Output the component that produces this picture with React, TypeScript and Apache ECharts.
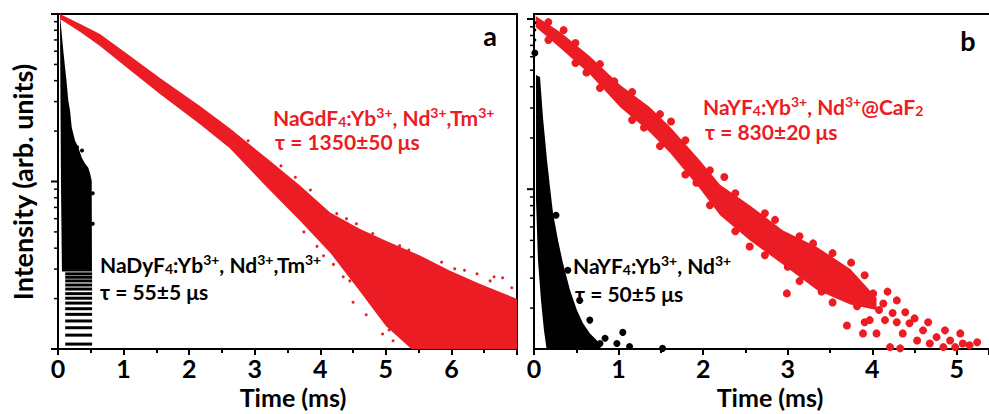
import React, { useEffect, useRef } from "react";
import * as echarts from "echarts";

// ---------------- data (time in ms, intensity in arb. units) ----------------
// Panel a – NaGdF4:Yb,Nd,Tm (red, dense band: upper / lower envelope)
const redA_t = [0.03, 0.34, 0.64, 1.1, 1.56, 2.17, 2.62, 3.19, 3.69, 4.15, 4.6, 5.0, 5.52, 5.98, 6.43, 7.0];
const redA_high = [100, 87.1, 75.9, 56.1, 41.4, 28.1, 20.8, 13.7, 9.46, 6.52, 5.23, 4.43, 3.61, 2.93, 2.45, 1.99];
const redA_low = [93.3, 78.0, 64.3, 46.2, 33.2, 21.9, 15.8, 9.2, 5.84, 3.76, 2.22, 1.37, 0.9, 0.9, 0.9, 0.9];
const redA_dots: number[][] = [
  [4.25, 6.43], [4.8, 4.89], [5.21, 4.14], [5.67, 3.23], [6.05, 3.01], [6.39, 2.81], [6.59, 2.55],
  [6.78, 2.66], [6.92, 2.32], [4.91, 1.62], [4.95, 1.23], [5.11, 1.12], [4.5, 1.9], [4.7, 1.6],
  [5.05, 1.3], [4.45, 2.55], [3.4, 12.4], [3.62, 10.6], [3.85, 8.9], [3.95, 4.1], [4.05, 3.6],
  [4.2, 3.2], [3.75, 5.0], [2.9, 17.5], [3.05, 11.2], [4.4, 6.0], [4.55, 5.6], [5.35, 3.9],
  [5.85, 3.3], [6.2, 2.95], [6.65, 2.7], [4.35, 2.7],
];
// Panel a – NaDyF4:Yb,Nd,Tm (black, solid outline + quantised low-count levels)
const blackA_t = [0.03, 0.056, 0.08, 0.107, 0.133, 0.157, 0.183, 0.209, 0.259, 0.309, 0.361, 0.412, 0.462, 0.488, 0.514, 0.518, 0.06, 0.045];
const blackA_v = [98.6, 76.9, 60.9, 48.2, 38.6, 30.5, 26.6, 21.1, 17.6, 16.0, 13.9, 12.8, 12.1, 11.2, 10.1, 2.9, 2.9, 10];
const blackA_levels = [1.07, 1.21, 1.34, 1.47, 1.61, 1.74, 1.88, 2.01, 2.14, 2.28, 2.41, 2.55, 2.68, 2.81];
const blackA_levelStart = 0.11;
const blackA_levelEnd = 0.52;
const blackA_dots: number[][] = [[0.29, 16.0], [0.366, 15.3], [0.53, 8.5], [0.53, 5.6]];

// Panel b – NaYF4:Yb,Nd@CaF2 (red)
const redB_t = [0.02, 0.31, 0.66, 1.02, 1.37, 1.61, 1.96, 2.2, 2.55, 2.94, 3.35, 3.74, 4.05];
const redB_high = [104, 83.9, 60.5, 40.9, 30.3, 23.2, 14.8, 10.6, 8.05, 5.74, 4.56, 3.4, 2.3];
const redB_low = [89.7, 67.5, 47.4, 30.3, 21.6, 16.3, 10.1, 7.03, 5.01, 3.62, 2.55, 2.1, 1.95];
const redB_dots: number[][] = [
  [0.17, 95.9], [0.17, 75.2], [0.49, 72.3], [0.49, 55.1], [0.78, 54.3], [0.78, 39.3], [1.16, 37.2],
  [1.16, 25.5], [1.49, 27.6], [1.49, 17.9], [1.79, 19.4], [1.79, 12.2], [2.08, 12.9], [2.08, 8.05],
  [2.38, 9.47], [2.38, 5.66], [2.73, 7.22], [2.73, 4.09], [3.14, 5.29], [3.14, 2.88], [3.53, 4.21],
  [3.53, 2.16], [3.91, 3.12], [3.91, 1.65], [2.99, 2.44], [3.7, 1.58], [2.67, 5.97],
  [4.01, 2.44], [4.05, 1.42], [4.13, 2.13], [4.15, 1.7], [4.21, 1.18], [4.24, 1.87], [4.29, 2.22],
  [4.29, 1.65], [4.33, 1.16], [4.36, 1.42], [4.39, 1.89], [4.44, 1.63], [4.5, 1.74], [4.53, 1.29],
  [4.6, 1.48], [4.66, 1.65], [4.68, 1.24], [4.76, 1.35], [4.84, 1.18], [4.86, 1.48], [4.92, 1.29],
  [4.98, 1.18], [5.04, 1.42], [5.07, 1.24], [5.15, 1.21], [5.24, 1.26], [3.97, 1.7], [3.89, 1.42],
  [0.35, 86.0], [0.62, 48.5], [0.95, 43.0], [1.3, 23.0], [1.62, 25.0], [1.92, 10.9], [2.25, 11.8],
  [2.5, 6.3], [2.85, 6.6], [3.0, 3.5], [3.3, 4.8], [3.4, 2.5], [3.75, 3.7], [3.82, 2.05],
  [4.08, 1.95], [4.18, 2.5], [3.6, 3.0], [3.25, 3.3], [2.55, 4.6],
];
// Panel b – NaYF4:Yb,Nd (black)
const blackB_t = [0.024, 0.071, 0.106, 0.154, 0.189, 0.225, 0.284, 0.343, 0.426, 0.508, 0.579, 0.662, 0.745, 0.816, 0.154, 0.118, 0.083, 0.047, 0.024];
const blackB_v = [46.9, 45.6, 26.5, 14.8, 10.3, 7.23, 5.01, 3.67, 2.55, 1.94, 1.63, 1.42, 1.29, 1.1, 1.1, 1.48, 2.22, 3.82, 8.61];
const blackB_dots: number[][] = [
  [0.01, 63.1], [0.26, 7.03], [0.4, 3.34], [0.54, 2.22], [0.66, 1.7], [0.84, 1.33], [0.64, 1.33],
  [0.78, 1.24], [0.98, 1.24], [1.05, 1.44], [1.13, 1.19], [1.52, 1.16],
];
const blackB_smallDots: number[][] = [[0.01, 95], [0.01, 86.1], [0.01, 75.2]];

// axes
const xMaxA = 7;
const xMaxB = 5.38;
const yMinA = 1;
const yMaxA = 100;
const yMinB = 1.15;
const yMaxB = 107;
const yMajorA = [1, 10, 100];
const yMajorB = [10, 100];
const yMinor = [2, 3, 4, 5, 6, 7, 8, 9, 20, 30, 40, 50, 60, 70, 80, 90];

// ---------------------------------------------------------------------------
const FONT = 'Lato, "Open Sans", "DejaVu Sans", sans-serif';
const RED = "#ec1c24";

function polygonSeries(xi: number, yi: number, ts: number[], vs: number[], color: string) {
  return {
    type: "custom",
    xAxisIndex: xi,
    yAxisIndex: yi,
    clip: true,
    silent: true,
    data: [[ts[0], vs[0]]],
    renderItem: (_p: any, api: any) => {
      const pts = ts.map((t, i) => api.coord([t, vs[i]]));
      return { type: "polygon", shape: { points: pts }, style: { fill: color } };
    },
  };
}

function bandSeries(xi: number, yi: number, ts: number[], hi: number[], lo: number[], color: string) {
  return {
    type: "custom",
    xAxisIndex: xi,
    yAxisIndex: yi,
    clip: true,
    silent: true,
    data: [[ts[0], hi[0]]],
    renderItem: (_p: any, api: any) => {
      const top = ts.map((t, i) => api.coord([t, hi[i]]));
      const bot = ts.map((t, i) => api.coord([t, lo[i]])).reverse();
      return { type: "polygon", shape: { points: top.concat(bot) }, style: { fill: color } };
    },
  };
}

function dotSeries(xi: number, yi: number, data: number[][], color: string, size: number) {
  return {
    type: "scatter",
    xAxisIndex: xi,
    yAxisIndex: yi,
    data,
    symbol: "circle",
    symbolSize: size,
    itemStyle: { color, opacity: 1 },
    silent: true,
    clip: true,
  };
}

function yTickSeries(xi: number, yi: number, vals: number[], len: number, w: number) {
  return {
    type: "custom",
    xAxisIndex: xi,
    yAxisIndex: yi,
    clip: false,
    silent: true,
    data: vals.map((v) => [0, v]),
    renderItem: (_p: any, api: any) => {
      const c = api.coord([api.value(0), api.value(1)]);
      return {
        type: "line",
        shape: { x1: c[0] - len, y1: c[1], x2: c[0], y2: c[1] },
        style: { stroke: "#000", lineWidth: w },
      };
    },
  };
}

function levelSeries(xi: number, yi: number) {
  return {
    type: "custom",
    xAxisIndex: xi,
    yAxisIndex: yi,
    clip: true,
    silent: true,
    dimensions: ["x0", "y", "x1"],
    encode: { x: [0, 2], y: 1 },
    data: blackA_levels.map((v) => [blackA_levelStart, v, blackA_levelEnd]),
    renderItem: (_p: any, api: any) => {
      const a = api.coord([api.value(0), api.value(1)]);
      const b = api.coord([api.value(2), api.value(1)]);
      return {
        type: "line",
        shape: { x1: a[0], y1: a[1], x2: b[0], y2: b[1] },
        style: { stroke: "#000", lineWidth: 3 },
      };
    },
  };
}

function richStyles(color: string, size: number) {
  const small = Math.round(size * 0.65);
  const base = { fontWeight: "bold", fontFamily: FONT, fill: color };
  return {
    n: { ...base, fontSize: size, lineHeight: size + 2 },
    sup: { ...base, fontSize: small, lineHeight: small, verticalAlign: "top" },
    sub: { ...base, fontSize: small, lineHeight: small, verticalAlign: "bottom" },
  };
}

function richText(x: number, y: number, text: string, color: string, size: number) {
  return {
    type: "text",
    x,
    y,
    silent: true,
    style: {
      text,
      rich: richStyles(color, size),
      fill: color,
      font: `bold ${size}px ${FONT}`,
      align: "left",
      verticalAlign: "middle",
      textAlign: "left",
      textVerticalAlign: "middle",
    },
  };
}

function plainText(x: number, y: number, text: string, size: number, rotation = 0) {
  return {
    type: "text",
    x,
    y,
    rotation,
    silent: true,
    style: {
      text,
      fill: "#000",
      font: `bold ${size}px ${FONT}`,
      align: "center",
      verticalAlign: "middle",
      textAlign: "center",
      textVerticalAlign: "middle",
    },
  };
}

const axisLineStyle = { color: "#000", width: 2 };

function bottomX(grid: number, max: number) {
  return {
    gridIndex: grid,
    type: "value",
    min: 0,
    max,
    interval: 1,
    position: "bottom",
    axisLine: { show: true, onZero: false, lineStyle: axisLineStyle },
    axisTick: { show: true, inside: false, length: 6, lineStyle: { color: "#000", width: 2 } },
    minorTick: { show: true, splitNumber: 2, length: 4, lineStyle: { color: "#000", width: 2 } },
    axisLabel: {
      show: true,
      showMaxLabel: false,
      margin: 6,
      color: "#000",
      fontSize: 25,
      lineHeight: 25,
      fontWeight: "bold",
      fontFamily: FONT,
    },
    splitLine: { show: false },
  };
}

function topX(grid: number, max: number) {
  return {
    gridIndex: grid,
    type: "value",
    min: 0,
    max,
    position: "top",
    axisLine: { show: true, onZero: false, lineStyle: axisLineStyle },
    axisTick: { show: false },
    axisLabel: { show: false },
    splitLine: { show: false },
  };
}

function logY(grid: number, min: number, max: number, position: string, showLine = true) {
  return {
    gridIndex: grid,
    type: "log",
    logBase: 10,
    min,
    max,
    position,
    axisLine: { show: showLine, onZero: false, lineStyle: axisLineStyle },
    axisTick: { show: false },
    minorTick: { show: false },
    axisLabel: { show: false },
    splitLine: { show: false },
    minorSplitLine: { show: false },
  };
}

export default function App() {
  const ref = useRef<HTMLDivElement>(null);

  useEffect(() => {
    if (!ref.current) return;
    const chart = echarts.init(ref.current, null, { renderer: "svg" });
    const option: any = {
      animation: false,
      backgroundColor: "#fff",
      grid: [
        { left: 58, top: 14, width: 459, height: 335 },
        { left: 534, top: 14, width: 455, height: 335 },
      ],
      xAxis: [bottomX(0, xMaxA), topX(0, xMaxA), bottomX(1, xMaxB), topX(1, xMaxB)],
      yAxis: [
        logY(0, yMinA, yMaxA, "left"),
        logY(0, yMinA, yMaxA, "right"),
        logY(1, yMinB, yMaxB, "left"),
      ],
      series: [
        // panel a
        polygonSeries(0, 0, blackA_t, blackA_v, "#000"),
        levelSeries(0, 0),
        dotSeries(0, 0, blackA_dots, "#000", 4),
        bandSeries(0, 0, redA_t, redA_high, redA_low, RED),
        dotSeries(0, 0, redA_dots, RED, 3),
        yTickSeries(0, 0, yMajorA, 7, 2),
        yTickSeries(0, 0, yMinor, 4, 1.5),
        // panel b
        polygonSeries(2, 2, blackB_t, blackB_v, "#000"),
        dotSeries(2, 2, blackB_dots, "#000", 7),
        dotSeries(2, 2, blackB_smallDots, "#000", 3),
        bandSeries(2, 2, redB_t, redB_high, redB_low, RED),
        dotSeries(2, 2, redB_dots, RED, 8),
        yTickSeries(2, 2, yMajorB, 7, 2),
        yTickSeries(2, 2, yMinor, 4, 1.5),
      ],
      graphic: [
        plainText(22, 182, "Intensity (arb. units)", 27, Math.PI / 2),
        plainText(293, 397, "Time (ms)", 25),
        plainText(770, 397, "Time (ms)", 25),
        plainText(490, 35, "a", 27),
        plainText(968, 40, "b", 27),
        richText(273, 117, "{n|NaGdF}{sub|4}{n|:Yb}{sup|3+}{n|, Nd}{sup|3+}{n|,Tm}{sup|3+}", RED, 21),
        richText(275, 141, "{n|τ = 1350±50 μs}", RED, 21),
        richText(100, 264, "{n|NaDyF}{sub|4}{n|:Yb}{sup|3+}{n|, Nd}{sup|3+}{n|,Tm}{sup|3+}", "#000", 21),
        richText(100, 291, "{n|τ = 55±5 μs}", "#000", 21),
        richText(703, 106, "{n|NaYF}{sub|4}{n|:Yb}{sup|3+}{n|, Nd}{sup|3+}{n|@CaF}{sub|2}", RED, 21),
        richText(705, 131, "{n|τ = 830±20 μs}", RED, 21),
        richText(573, 265, "{n|NaYF}{sub|4}{n|:Yb}{sup|3+}{n|, Nd}{sup|3+}", "#000", 21),
        richText(575, 293, "{n|τ = 50±5 μs}", "#000", 21),
      ],
    };
    chart.setOption(option);
    return () => chart.dispose();
  }, []);

  return (
    <div
      ref={ref}
      style={{ position: "fixed", left: 0, top: 0, width: 989, height: 414, background: "#fff" }}
    />
  );
}
